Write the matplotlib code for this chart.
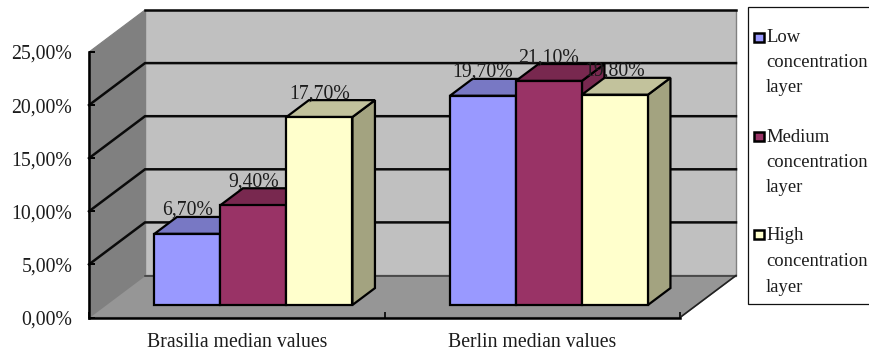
"""Pseudo-3D clustered bars, median values per concentration layer."""

import matplotlib

matplotlib.use("Agg")
import matplotlib.pyplot as plt
from matplotlib.patches import Polygon, Rectangle
from matplotlib.ticker import FuncFormatter

categories = ["Brasilia median values", "Berlin median values"]
series_names = ["Low\nconcentration\nlayer", "Medium\nconcentration\nlayer", "High\nconcentration\nlayer"]
low_values = [6.7, 19.7]
medium_values = [9.4, 21.1]
high_values = [17.7, 19.8]
y_ticks = [0, 5, 10, 15, 20, 25]

W, H = 869, 353
TEXT = "#1c1c1c"
EDGE = "black"

# face, top, side colours per series
bar_colors = [
    ("#9999FF", "#7878C4", "#7878C4"),
    ("#993366", "#78284F", "#78284F"),
    ("#FFFFCC", "#C2C29C", "#A3A380"),
]

# depth of the box in axis units (one unit of depth = 56 px right, 42 px up)
DX = 56 / 295.5
DY = 42 / 10.62
BAR_W = 66 / 295.5
D0, D1 = 0.298, 0.70

plt.rcParams["font.family"] = ["Liberation Serif", "DejaVu Serif"]

fig = plt.figure(figsize=(W / 100, H / 100), dpi=100)
ax = fig.add_axes([89 / W, 1 - 317.5 / H, 591 / W, 265.5 / H])
ax.set_xlim(0, 2)
ax.set_ylim(0, 25)
ax.patch.set_visible(False)


def proj(x, y, d):
    return (x + d * DX, y + d * DY)


def poly(points, face, edge=EDGE, lw=1.6, z=1):
    ax.add_patch(Polygon(points, closed=True, facecolor=face, edgecolor=edge,
                         linewidth=lw, joinstyle="miter", clip_on=False, zorder=z))


# walls and floor
poly([proj(0, 0, 1), proj(2, 0, 1), proj(2, 25, 1), proj(0, 25, 1)], "#C0C0C0", edge="#808080", lw=1.0)
poly([proj(0, 0, 0), proj(0, 0, 1), proj(0, 25, 1), proj(0, 25, 0)], "#808080", edge="#808080", lw=0.8)
poly([proj(0, 0, 0), proj(2, 0, 0), proj(2, 0, 1), proj(0, 0, 1)], "#969696", edge="#808080", lw=1.0)
ax.plot(*zip(proj(0, 0, 1), proj(2, 0, 1)), color="#3a3a3a", lw=1.1, clip_on=False, zorder=2)

# gridlines run along the side wall and across the back wall
for v in y_ticks[1:]:
    pts = [proj(0, v, 0), proj(0, v, 1), proj(2, v, 1)]
    ax.plot(*zip(*pts[1:] if v == 25 else pts), color="#0a0a0a", lw=1.8, clip_on=False, zorder=2,
            solid_joinstyle="miter")
ax.plot(*zip(proj(2, 0, 0), proj(2, 0, 1)), color="#222222", lw=1.2, clip_on=False, zorder=2)

# bars
all_values = [low_values, medium_values, high_values]
z = 3
labels = []
for s, values in enumerate(all_values):
    face, top, side = bar_colors[s]
    for c, v in enumerate(values):
        x0 = c + 0.5 - 1.5 * BAR_W + s * BAR_W
        x1 = x0 + BAR_W
        poly([proj(x1, 0, D0), proj(x1, 0, D1), proj(x1, v, D1), proj(x1, v, D0)], side, z=z)
        poly([proj(x0, v, D0), proj(x1, v, D0), proj(x1, v, D1), proj(x0, v, D1)], top, z=z)
        poly([proj(x0, 0, D0), proj(x1, 0, D0), proj(x1, v, D0), proj(x0, v, D0)], face, z=z)
        z += 1
        labels.append((proj((x0 + x1) / 2, v, D0)[0], proj(0, v, D1)[1], v))

for x, y, v in labels:
    ax.annotate(f"{v:.2f}%".replace(".", ","), (x, y), xytext=(0, 1.4), textcoords="offset points",
                ha="center", va="baseline", fontsize=14.2, color=TEXT, zorder=50, annotation_clip=False)

# axes
for name in ["top", "right"]:
    ax.spines[name].set_visible(False)
for name in ["left", "bottom"]:
    ax.spines[name].set_linewidth(1.8)
    ax.spines[name].set_zorder(40)
ax.set_yticks(y_ticks)
ax.yaxis.set_major_formatter(FuncFormatter(lambda v, _: f"{v:.2f}%".replace(".", ",")))
ax.tick_params(axis="y", direction="in", length=4.5, width=1.4, pad=12, labelsize=14.2,
               labelcolor=TEXT, left=True, zorder=40)
ax.set_xticks([0, 1, 2])
ax.set_xticklabels([])
ax.set_xticks([0.5, 1.5], minor=True)
ax.set_xticklabels(categories, minor=True)
ax.tick_params(axis="x", which="major", direction="in", length=4, width=1.2, zorder=40)
ax.tick_params(axis="x", which="minor", length=0, pad=11, labelsize=14.2, labelcolor=TEXT)

# legend box in pixel coordinates
leg = fig.add_axes([0, 0, 1, 1], zorder=60)
leg.set_xlim(0, W)
leg.set_ylim(H, 0)
leg.axis("off")
leg.add_patch(Rectangle((748, 6.5), 130, 297, facecolor="white", edgecolor="#111111", linewidth=0.9))
for name, colors, top_y, key_y in zip(series_names, bar_colors, [37, 137, 236], [37.5, 136.5, 234.5]):
    leg.add_patch(Rectangle((754, key_y - 4.5), 9.5, 9, facecolor=colors[0], edgecolor="black", linewidth=1.8))
    for i, line in enumerate(name.split("\n")):
        leg.text(766, top_y + i * 25.5, line, fontsize=13.4, color=TEXT, va="center", ha="left")

fig.savefig("out.png", dpi=100)
